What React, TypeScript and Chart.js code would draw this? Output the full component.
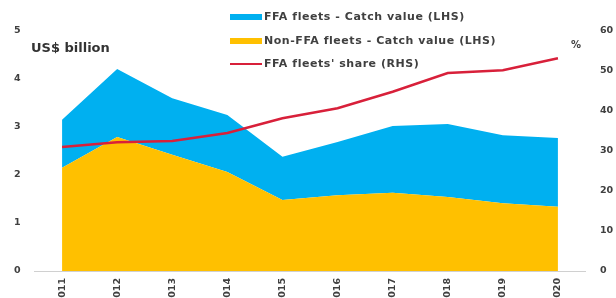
import React, { useEffect, useRef } from "react";
import { Chart, registerables } from "chart.js";

Chart.register(...registerables);

const years = ["2011", "2012", "2013", "2014", "2015", "2016", "2017", "2018", "2019", "2020"];
const nonFfaValue = [2.15, 2.79, 2.42, 2.06, 1.48, 1.58, 1.63, 1.54, 1.41, 1.34];
const ffaValue = [1.0, 1.42, 1.18, 1.19, 0.9, 1.11, 1.39, 1.52, 1.42, 1.43];
const ffaShare = [31, 32.2, 32.5, 34.5, 38.2, 40.7, 44.8, 49.5, 50.2, 53.2];
const leftTicks = [0, 1, 2, 3, 4, 5];
const rightTicks = [0, 10, 20, 30, 40, 50, 60];

const legendItems = [
  { label: "FFA fleets - Catch value (LHS)", color: "#00B0F0", kind: "box" },
  { label: "Non-FFA fleets - Catch value (LHS)", color: "#FFC000", kind: "box" },
  { label: "FFA fleets' share (RHS)", color: "#D8203A", kind: "line" },
];

const FONT = "'DejaVu Sans', 'Open Sans', sans-serif";
const TEXT = "#404040";

export default function App() {
  const ref = useRef<HTMLCanvasElement | null>(null);

  useEffect(() => {
    if (!ref.current) return;
    const chart = new Chart(ref.current, {
      type: "line",
      data: {
        labels: years,
        datasets: [
          {
            label: "Non-FFA fleets - Catch value (LHS)",
            data: nonFfaValue,
            yAxisID: "y",
            backgroundColor: "#FFC000",
            borderWidth: 0,
            pointRadius: 0,
            fill: "origin",
            order: 1,
          },
          {
            label: "FFA fleets - Catch value (LHS)",
            data: ffaValue,
            yAxisID: "y",
            backgroundColor: "#00B0F0",
            borderWidth: 0,
            pointRadius: 0,
            fill: "-1",
            order: 2,
          },
          {
            label: "FFA fleets' share (RHS)",
            data: ffaShare,
            yAxisID: "y1",
            borderColor: "#D8203A",
            backgroundColor: "#D8203A",
            borderWidth: 2.5,
            pointRadius: 0,
            fill: false,
            tension: 0,
            order: 0,
          },
        ],
      },
      options: {
        responsive: false,
        animation: false,
        layout: { padding: { top: 31, left: 0, right: 0, bottom: 0 } },
        plugins: { legend: { display: false }, tooltip: { enabled: false }, title: { display: false } },
        scales: {
          x: {
            offset: true,
            grid: { display: false, drawTicks: false },
            border: { display: true, color: "#d0d0d0", dash: [2, 2], width: 1 },
            ticks: {
              autoSkip: false,
              minRotation: 90,
              maxRotation: 90,
              padding: 7,
              color: TEXT,
              font: { family: FONT, size: 9.5, weight: "bold" },
            },
            afterFit: (s: any) => {
              s.height = 39;
            },
          },
          y: {
            stacked: true,
            position: "left",
            min: 0,
            max: 5,
            afterBuildTicks: (s: any) => {
              s.ticks = leftTicks.map((v) => ({ value: v }));
            },
            grid: { display: false, drawTicks: false },
            border: { display: false },
            ticks: {
              padding: 14,
              color: TEXT,
              font: { family: FONT, size: 9.5, weight: "bold" },
            },
            afterFit: (s: any) => {
              s.width = 34.5;
            },
          },
          y1: {
            stacked: false,
            position: "right",
            min: 0,
            max: 60,
            afterBuildTicks: (s: any) => {
              s.ticks = rightTicks.map((v) => ({ value: v }));
            },
            grid: { display: false, drawTicks: false },
            border: { display: false },
            ticks: {
              padding: 14.5,
              color: TEXT,
              font: { family: FONT, size: 9.5, weight: "bold" },
            },
            afterFit: (s: any) => {
              s.width = 30.5;
            },
          },
        },
      },
    });
    return () => chart.destroy();
  }, []);

  return (
    <div
      style={{
        position: "fixed",
        left: 0,
        top: 0,
        width: 616,
        height: 298,
        overflow: "hidden",
        background: "#fff",
        fontFamily: FONT,
      }}
    >
      <canvas ref={ref} width={616} height={310} style={{ position: "absolute", left: 0, top: 0 }} />
      <div
        style={{
          position: "absolute",
          left: 31,
          top: 39,
          fontSize: 13,
          fontWeight: 700,
          color: "#333",
          whiteSpace: "nowrap",
          lineHeight: "18px",
        }}
      >
        US$ billion
      </div>
      <div
        style={{
          position: "absolute",
          left: 571,
          top: 38,
          fontSize: 10,
          fontWeight: 700,
          color: TEXT,
          lineHeight: "14px",
        }}
      >
        %
      </div>
      {legendItems.map((it, i) => (
        <div
          key={it.label}
          style={{
            position: "absolute",
            left: 230,
            top: 9 + i * 23.5,
            height: 16,
            display: "flex",
            alignItems: "center",
            whiteSpace: "nowrap",
          }}
        >
          <div
            style={{
              width: 32,
              height: it.kind === "box" ? 6 : 2.5,
              background: it.color,
              marginRight: 2,
            }}
          />
          <span
            style={{
              fontSize: 11,
              fontWeight: 700,
              color: TEXT,
              lineHeight: "16px",
              letterSpacing: "0.55px",
            }}
          >
            {it.label}
          </span>
        </div>
      ))}
    </div>
  );
}
